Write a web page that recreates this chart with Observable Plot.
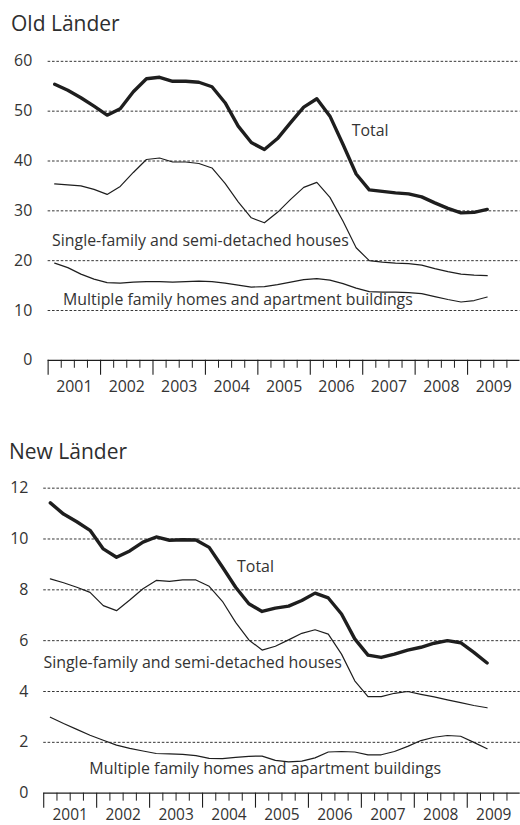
<!DOCTYPE html>
<html>
<head>
<meta charset="utf-8">
<script src="https://cdn.jsdelivr.net/npm/d3@7"></script>
<script src="https://cdn.jsdelivr.net/npm/@observablehq/plot@0.6"></script>
<style>
  html, body { margin: 0; padding: 0; background: #fff; overflow: hidden; }
  #page { position: relative; width: 520px; height: 825px; overflow: hidden; font-family: "Open Sans", sans-serif; color: #333; }
  .title { position: absolute; font-size: 21px; line-height: 21px; white-space: nowrap; color: #2e2e2e; }
  .chart { position: absolute; left: 0; }
</style>
</head>
<body>
<div id="page">
  <div class="title" style="left:11px; top:13px;">Old Länder</div>
  <div class="chart" id="top" style="top:40px;"></div>
  <div class="title" style="left:9px; top:441px;">New Länder</div>
  <div class="chart" id="bottom" style="top:470px;"></div>
</div>
<script>
// Quarterly periods (2001 Q1 – 2009 Q2)
const quarters = [
  "2001Q1","2001Q2","2001Q3","2001Q4","2002Q1","2002Q2","2002Q3","2002Q4",
  "2003Q1","2003Q2","2003Q3","2003Q4","2004Q1","2004Q2","2004Q3","2004Q4",
  "2005Q1","2005Q2","2005Q3","2005Q4","2006Q1","2006Q2","2006Q3","2006Q4",
  "2007Q1","2007Q2","2007Q3","2007Q4","2008Q1","2008Q2","2008Q3","2008Q4",
  "2009Q1","2009Q2"
];
const years = [2001, 2002, 2003, 2004, 2005, 2006, 2007, 2008, 2009];

// Old Länder
const oldTotal  = [55.4, 54.2, 52.7, 51.0, 49.2, 50.5, 53.9, 56.5, 56.8, 56.0, 56.0, 55.8, 54.9, 51.7, 47.0, 43.7, 42.3, 44.5, 47.7, 50.8, 52.5, 49.0, 43.3, 37.4, 34.2, 33.9, 33.6, 33.4, 32.8, 31.6, 30.5, 29.6, 29.7, 30.3];
const oldSingle = [35.4, 35.2, 35.0, 34.3, 33.3, 34.9, 37.7, 40.3, 40.6, 39.8, 39.8, 39.5, 38.6, 35.5, 31.8, 28.6, 27.6, 29.7, 32.3, 34.7, 35.7, 32.7, 27.9, 22.6, 20.0, 19.7, 19.5, 19.4, 19.1, 18.4, 17.8, 17.3, 17.1, 17.0];
const oldMulti  = [19.5, 18.6, 17.3, 16.3, 15.6, 15.5, 15.7, 15.8, 15.8, 15.7, 15.8, 15.9, 15.8, 15.5, 15.1, 14.7, 14.8, 15.2, 15.7, 16.2, 16.4, 16.1, 15.4, 14.5, 13.8, 13.7, 13.7, 13.6, 13.4, 12.8, 12.2, 11.7, 12.0, 12.7];
const oldYTicks = [0, 10, 20, 30, 40, 50, 60];

// New Länder
const newTotal  = [11.42, 10.98, 10.68, 10.34, 9.61, 9.28, 9.53, 9.88, 10.08, 9.95, 9.97, 9.96, 9.67, 8.90, 8.10, 7.45, 7.15, 7.28, 7.36, 7.58, 7.87, 7.68, 7.05, 6.07, 5.43, 5.34, 5.47, 5.63, 5.74, 5.90, 6.00, 5.92, 5.54, 5.12];
const newSingle = [8.43, 8.28, 8.10, 7.90, 7.38, 7.18, 7.60, 8.04, 8.37, 8.33, 8.39, 8.39, 8.14, 7.55, 6.72, 6.03, 5.63, 5.78, 6.03, 6.29, 6.43, 6.26, 5.47, 4.42, 3.80, 3.80, 3.93, 4.00, 3.89, 3.79, 3.67, 3.56, 3.45, 3.36];
const newMulti  = [2.99, 2.74, 2.51, 2.28, 2.08, 1.89, 1.76, 1.66, 1.56, 1.55, 1.53, 1.48, 1.37, 1.36, 1.41, 1.45, 1.46, 1.29, 1.23, 1.26, 1.39, 1.62, 1.64, 1.62, 1.51, 1.51, 1.64, 1.84, 2.07, 2.20, 2.27, 2.24, 2.00, 1.75];
const newYTicks = [0, 2, 4, 6, 8, 10, 12];

const seriesNames = {
  total: "Total",
  single: "Single-family and semi-detached houses",
  multi: "Multiple family homes and apartment buildings"
};

// decimal-year position of each quarter's midpoint
const qPos = quarters.map(s => +s.slice(0, 4) + (+s.slice(5) - 0.5) / 4);

function rows(values) {
  return values.map((v, i) => ({t: qPos[i], v}));
}

const minorTicks = years.flatMap(y => [y + 0.25, y + 0.5, y + 0.75]);
const INK = "#1e1e1e";
const TXT = "#333";

function panel(cfg) {
  return Plot.plot({
    width: cfg.width,
    height: cfg.height,
    marginLeft: cfg.marginLeft,
    marginRight: cfg.marginRight,
    marginTop: cfg.marginTop,
    marginBottom: cfg.marginBottom,
    x: {domain: [2001, 2010]},
    y: {domain: [0, cfg.yTicks[cfg.yTicks.length - 1]]},
    style: {fontFamily: "Open Sans, sans-serif", fontSize: "16px", color: TXT, background: "transparent", overflow: "visible"},
    marks: [
      Plot.ruleY(cfg.yTicks.filter(d => d > 0), {stroke: INK, strokeWidth: 0.9, strokeDasharray: "2.6,1.8"}),
      Plot.ruleY([0], {stroke: INK, strokeWidth: 1.2}),
      Plot.axisX({ticks: years, tickSize: 15, tickFormat: () => "", stroke: INK, strokeWidth: 1.1, label: null}),
      Plot.axisX({ticks: minorTicks, tickSize: 8, tickFormat: () => "", stroke: INK, strokeWidth: 1, label: null}),
      Plot.axisX({ticks: years.map(y => y + 0.5), tickSize: 0, tickPadding: cfg.xPad, tickFormat: d => String(Math.floor(d)), fill: TXT, fontSize: cfg.xFont, label: null}),
      Plot.axisY({ticks: cfg.yTicks, tickSize: 0, tickPadding: cfg.yPad, fill: TXT, fontSize: 16, label: null}),
      Plot.line(rows(cfg.multi), {x: "t", y: "v", stroke: INK, strokeWidth: 1.2}),
      Plot.line(rows(cfg.single), {x: "t", y: "v", stroke: INK, strokeWidth: 1.2}),
      Plot.line(rows(cfg.total), {x: "t", y: "v", stroke: INK, strokeWidth: 3.4}),
      Plot.text(cfg.labels, {x: "x", y: "y", text: "text", textAnchor: "start", fill: TXT, fontSize: 16})
    ]
  });
}

document.getElementById("top").append(panel({
  width: 524, height: 360, marginLeft: 48, marginRight: 0.5, marginTop: 21, marginBottom: 37.7,
  yTicks: oldYTicks, xPad: 21, yPad: 16, xFont: 16,
  total: oldTotal, single: oldSingle, multi: oldMulti,
  labels: [
    {text: seriesNames.total, x: 2006.79, y: 46.05},
    {text: seriesNames.single, x: 2001.076, y: 24.0},
    {text: seriesNames.multi, x: 2001.284, y: 12.07}
  ]
}));

document.getElementById("bottom").append(panel({
  width: 521, height: 355, marginLeft: 43.3, marginRight: 0.3, marginTop: 17.7, marginBottom: 31.7,
  yTicks: newYTicks, xPad: 16, yPad: 15.3, xFont: 15.5,
  total: newTotal, single: newSingle, multi: newMulti,
  labels: [
    {text: seriesNames.total, x: 2004.651, y: 8.92},
    {text: seriesNames.single, x: 2000.994, y: 5.12},
    {text: seriesNames.multi, x: 2001.861, y: 0.95}
  ]
}));
</script>
</body>
</html>
